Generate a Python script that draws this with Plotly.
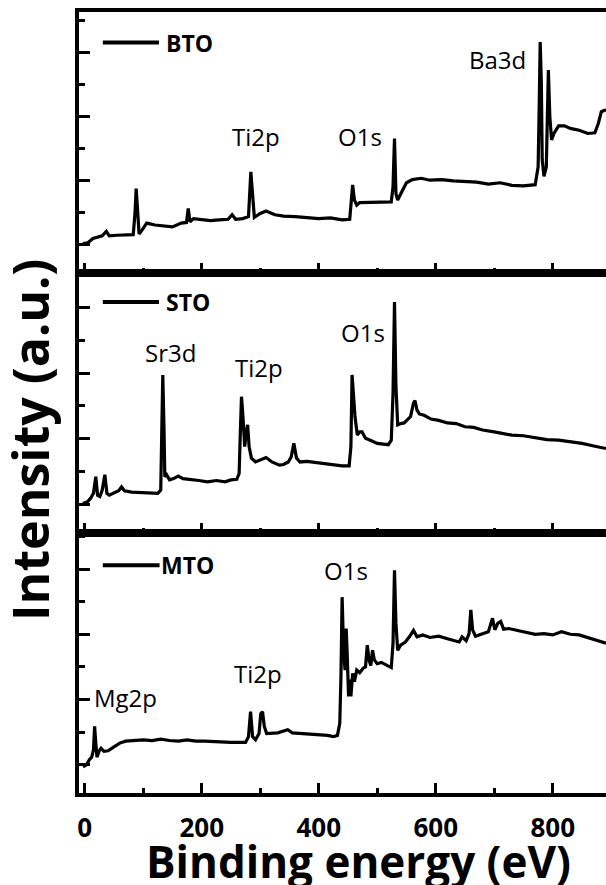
import plotly.graph_objects as go

# ---------------- data ----------------
# Binding energy (eV) and intensity (a.u., panel units)
bto_x = [-3, 5, 14, 22, 30, 37, 42, 55, 70, 83, 86, 88, 90, 93, 98, 106, 120, 135, 150, 165,
         174, 177, 180, 186, 200, 215, 230, 245, 252, 258, 270, 280, 284, 287, 290, 300, 310, 325,
         340, 360, 380, 400, 420, 440, 453, 456, 458, 461, 465, 470, 490, 510, 524, 527, 529.5,
         532, 535, 542, 550, 560, 575, 590, 610, 630, 650, 670, 690, 710, 730, 750, 770, 775,
         777, 778.5, 780.5, 782, 785, 789, 792.5, 795, 798, 802, 810, 820, 830, 845, 860, 872,
         878, 883, 891]
bto_y = [0.46, 0.47, 0.54, 0.56, 0.58, 0.65, 0.58, 0.59, 0.59, 0.60, 0.93, 1.32, 1.04, 0.61,
         0.67, 0.78, 0.75, 0.73, 0.72, 0.78, 0.79, 1.01, 0.80, 0.85, 0.83, 0.82, 0.83, 0.84,
         0.91, 0.84, 0.85, 0.88, 1.58, 1.14, 0.87, 0.93, 0.97, 0.91, 0.89, 0.88, 0.87, 0.85,
         0.86, 0.83, 0.84, 1.19, 1.375, 1.14, 1.06, 1.10, 1.10, 1.11, 1.11, 1.35, 2.10, 1.24,
         1.14, 1.27, 1.41, 1.46, 1.48, 1.45, 1.46, 1.44, 1.43, 1.42, 1.39, 1.41, 1.37, 1.36,
         1.38, 1.66, 2.70, 3.61, 2.96, 1.77, 1.51, 1.66, 3.17, 2.44, 2.08, 2.18, 2.30, 2.30,
         2.26, 2.23, 2.18, 2.19, 2.34, 2.52, 2.55]

sto_x = [-3, 5, 10, 15, 19, 22, 26, 30, 34.5, 38, 42, 50, 58, 63, 68, 80, 95, 110, 125, 130,
         132, 133.5, 135.5, 137, 140, 145, 152, 160, 168, 180, 195, 210, 225, 240, 250, 260,
         264, 266, 268, 270.5, 273.5, 276, 278.5, 281, 285, 292, 300, 310, 320, 333, 340, 348,
         353, 357.5, 362, 368, 380, 395, 410, 425, 440, 452, 455, 457, 459.5, 462, 466, 470,
         474, 480, 490, 500, 510, 519, 524, 527, 529.5, 532, 535, 540, 546, 552, 557, 562,
         564.5, 568, 572, 580, 592, 605, 620, 635, 650, 665, 680, 700, 715, 730, 750, 770,
         790, 810, 830, 850, 870, 891]
sto_y = [0.46, 0.49, 0.54, 0.62, 0.88, 0.59, 0.57, 0.67, 0.91, 0.62, 0.59, 0.62, 0.66, 0.72,
         0.66, 0.64, 0.63, 0.62, 0.62, 0.67, 1.92, 2.47, 1.66, 0.88, 0.91, 0.83, 0.85, 0.89,
         0.85, 0.84, 0.82, 0.80, 0.82, 0.80, 0.83, 0.84, 0.93, 1.56, 2.13, 1.82, 1.35, 1.56,
         1.69, 1.35, 1.17, 1.11, 1.14, 1.18, 1.11, 1.06, 1.07, 1.11, 1.19, 1.40, 1.17, 1.11,
         1.12, 1.10, 1.09, 1.06, 1.05, 1.05, 1.35, 2.47, 2.03, 1.82, 1.53, 1.58, 1.58, 1.48,
         1.44, 1.40, 1.39, 1.38, 1.45, 2.18, 3.61, 2.29, 1.69, 1.71, 1.72, 1.77, 1.82, 2.03,
         2.07, 1.92, 1.86, 1.84, 1.78, 1.76, 1.72, 1.71, 1.66, 1.65, 1.61, 1.58, 1.56, 1.53,
         1.52, 1.49, 1.46, 1.45, 1.43, 1.40, 1.36, 1.32]

mto_x = [-3, 3, 8, 12, 15, 17, 19, 21, 25, 28, 33, 40, 50, 60, 70, 85, 100, 115, 130, 145, 160,
         175, 190, 205, 220, 235, 250, 265, 275, 280, 283.5, 287, 292, 298, 301, 304, 307, 311,
         320, 330, 340, 347, 355, 370, 385, 400, 415, 425, 432, 436, 438, 440, 442.5, 445, 447,
         449, 451, 453, 455, 458, 461, 465, 470, 476, 480, 483, 486, 489, 492, 495, 500, 507,
         515, 524, 527, 529.5, 532, 535, 540, 548, 555, 562, 568, 578, 590, 605, 620, 632, 640,
         645, 652, 657, 660, 663, 668, 680, 690, 697, 701, 706, 711, 716, 725, 740, 755, 770,
         785, 800, 815, 830, 845, 860, 875, 891]
mto_y = [0.41, 0.44, 0.52, 0.56, 0.67, 1.04, 0.78, 0.56, 0.66, 0.70, 0.65, 0.66, 0.72, 0.78,
         0.81, 0.82, 0.83, 0.82, 0.84, 0.82, 0.81, 0.83, 0.81, 0.81, 0.80, 0.80, 0.79, 0.79,
         0.79, 0.88, 1.27, 0.88, 0.83, 0.93, 1.24, 1.27, 1.04, 0.93, 0.93, 0.94, 0.97, 0.99,
         0.94, 0.93, 0.93, 0.92, 0.90, 0.88, 0.90, 1.09, 1.82, 3.06, 2.23, 1.92, 2.57, 2.08,
         1.51, 1.77, 1.51, 1.87, 1.74, 1.92, 1.88, 1.95, 1.97, 2.31, 2.08, 1.99, 2.23, 2.08,
         2.02, 2.04, 2.00, 1.96, 2.34, 3.48, 2.65, 2.23, 2.31, 2.36, 2.44, 2.54, 2.44, 2.47,
         2.43, 2.45, 2.41, 2.38, 2.36, 2.44, 2.38, 2.49, 2.86, 2.55, 2.45, 2.49, 2.52, 2.73,
         2.55, 2.65, 2.68, 2.56, 2.57, 2.54, 2.51, 2.48, 2.49, 2.47, 2.52, 2.48, 2.47, 2.43,
         2.39, 2.34]

sample_names = ["BTO", "STO", "MTO"]

# peak labels per panel: (text, energy, intensity)
bto_labels = [("Ti2p", 293, 2.13), ("O1s", 470, 2.14), ("Ba3d", 706, 3.34)]
sto_labels = [("Sr3d", 146, 2.82), ("Ti2p", 298, 2.59), ("O1s", 476, 3.13)]
mto_labels = [("O1s", 447, 3.48), ("Ti2p", 296, 1.86), ("Mg2p", 69, 1.50)]

x_tick_values = [0, 200, 400, 600, 800]
x_tick_text = ["0", "200", "400", "600", "800"]

# ---------------- figure ----------------
FONT = "Open Sans"
W, H = 606, 885
ML, MR, MT, MB = 79, 0, 12, 92

fig = go.Figure()

series = [(bto_x, bto_y), (sto_x, sto_y), (mto_x, mto_y)]
axes_ids = [("x", "y"), ("x2", "y2"), ("x3", "y3")]
for (xs, ys), name, (xa, ya) in zip(series, sample_names, axes_ids):
    fig.add_trace(go.Scatter(x=xs, y=ys, mode="lines", name=name, xaxis=xa, yaxis=ya,
                             line=dict(color="black", width=3.2), showlegend=False))

plot_h = H - MT - MB
b1 = (793 - 273) / plot_h
b2 = (793 - 533) / plot_h
domains = [[b1, 1.0], [b2, b1], [0.0, b2]]
yranges = [[0, 261 / 64], [0, 260 / 64], [0, 260 / 64]]
ytick0 = [0.45, 0.44, 0.44]
ydtick = [1.0, 1.03, 1.02]

xrange_ = [-9.7, 891]

layout = dict(
    width=W, height=H, margin=dict(l=ML, r=MR, t=MT, b=MB),
    paper_bgcolor="white", plot_bgcolor="white",
    font=dict(family=FONT, color="black"),
    showlegend=False,
)
for i in range(3):
    xk = "xaxis" if i == 0 else f"xaxis{i+1}"
    yk = "yaxis" if i == 0 else f"yaxis{i+1}"
    ya = "y" if i == 0 else f"y{i+1}"
    xa = "x" if i == 0 else f"x{i+1}"
    layout[xk] = dict(
        domain=[0, 1], anchor=ya, range=xrange_, showgrid=False, zeroline=False,
        showline=True, linecolor="black", linewidth=4, mirror=True,
        ticks="inside", ticklen=10, tickwidth=3, tickcolor="black",
        tickmode="array", tickvals=x_tick_values, ticktext=x_tick_text,
        minor=dict(ticks="inside", ticklen=5, tickwidth=3, tickcolor="black",
                   tickmode="linear", tick0=0, dtick=100),
        showticklabels=(i == 2), ticklabelstandoff=9,
        tickfont=dict(family=FONT, size=26, color="black", weight="bold"),
    )
    if i > 0:
        layout[xk]["matches"] = "x"
    layout[yk] = dict(
        domain=domains[i], anchor=xa, range=yranges[i], showgrid=False, zeroline=False,
        showline=True, linecolor="black", linewidth=4, mirror=False,
        ticks="inside", ticklen=11, tickwidth=3, tickcolor="black",
        tickmode="linear", tick0=ytick0[i], dtick=ydtick[i],
        minor=dict(ticks="inside", ticklen=6, tickwidth=3, tickcolor="black",
                   tickmode="linear", tick0=ytick0[i], dtick=ydtick[i] / 2),
        showticklabels=False,
    )
fig.update_layout(**layout)

# legend-like sample tags and peak labels
legend_y = [3.60, 3.61, 3.56]
label_sets = [bto_labels, sto_labels, mto_labels]
for i, (name, labs) in enumerate(zip(sample_names, label_sets)):
    xa = "x" if i == 0 else f"x{i+1}"
    ya = "y" if i == 0 else f"y{i+1}"
    fig.add_shape(type="line", xref=xa, yref=ya, x0=31, x1=127 if i < 2 else 128,
                  y0=legend_y[i], y1=legend_y[i], line=dict(color="black", width=4))
    fig.add_annotation(x=135 if i < 2 else 127, y=legend_y[i], xref=xa, yref=ya, text=name,
                       showarrow=False, xanchor="left", yanchor="middle",
                       font=dict(family=FONT, size=23, color="black", weight="bold"))
    for txt, ex, ey in labs:
        fig.add_annotation(x=ex, y=ey, xref=xa, yref=ya, text=txt, showarrow=False,
                           xanchor="center", yanchor="middle",
                           font=dict(family=FONT, size=24, color="black"))

# axis titles
fig.add_annotation(x=(358 - ML) / (W - ML - MR), y=-(861 - 793) / plot_h, xref="paper", yref="paper",
                   text="Binding energy (eV)", showarrow=False, xanchor="center", yanchor="middle",
                   font=dict(family=FONT, size=44, color="black", weight="bold"))
fig.add_annotation(x=(30 - ML) / (W - ML - MR), y=(793 - 440) / plot_h, xref="paper", yref="paper",
                   text="Intensity (a.u.)", showarrow=False, textangle=-90,
                   xanchor="center", yanchor="middle",
                   font=dict(family=FONT, size=50, color="black", weight="bold"))

# remove the page's default body margin so the figure sits at the window origin
fig.write_html("out.html", config={"displayModeBar": False},
               post_script="document.body.style.margin='0';document.body.style.overflow='hidden';")
